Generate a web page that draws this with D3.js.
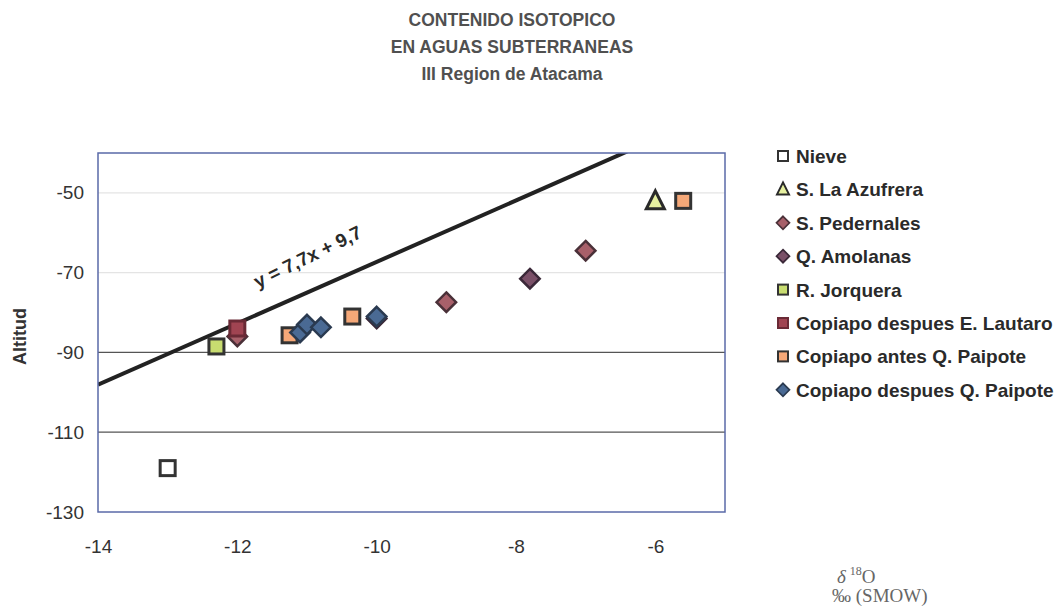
<!DOCTYPE html>
<html>
<head>
<meta charset="utf-8">
<script src="https://cdn.jsdelivr.net/npm/d3@7"></script>
<style>
  body { margin: 0; background: #fff; }
  text { font-family: "Liberation Sans", Arial, sans-serif; }
  text.serif { font-family: "Liberation Serif", "Times New Roman", serif; }
</style>
</head>
<body>
<svg class="chart" width="1062" height="606"></svg>
<script>
// data (delta 18O, altitude)
const titleLines = ['CONTENIDO ISOTOPICO', 'EN AGUAS SUBTERRANEAS', 'III Region de Atacama'];
const xTicks = [-14, -12, -10, -8, -6];
const yTicks = [-50, -70, -90, -110, -130];

const nieve = [[-13, -119]];
const azufrera = [[-6, -52]];
const pedernales = [[-12, -86], [-9, -77.4], [-7, -64.5]];
const amolanas = [[-7.8, -71.5], [-10, -81.5]];
const jorquera = [[-12.3, -88.5]];
const lautaro = [[-12, -84]];
const antesPaipote = [[-11.25, -85.7], [-10.35, -81], [-5.6, -52]];
const despuesPaipote = [[-11.1, -85], [-11, -83], [-10.8, -83.7], [-10, -81]];

const lineSlope = 7.7, lineIntercept = 9.7;

const series = [
    { name: 'Nieve', pts: nieve, shape: 'square', fill: '#ffffff', stroke: '#333' },
    { name: 'S. La Azufrera', pts: azufrera, shape: 'triangle', fill: '#e6f0a0', stroke: '#2a2a2a' },
    { name: 'S. Pedernales', pts: pedernales, shape: 'diamond', fill: '#a8606a', stroke: '#4a3038' },
    { name: 'Q. Amolanas', pts: amolanas, shape: 'diamond', fill: '#7a5068', stroke: '#3a2838' },
    { name: 'R. Jorquera', pts: jorquera, shape: 'square', fill: '#c8dc70', stroke: '#333' },
    { name: 'Copiapo despues E. Lautaro', pts: lautaro, shape: 'square', fill: '#a04452', stroke: '#6a2a36' },
    { name: 'Copiapo antes Q. Paipote', pts: antesPaipote, shape: 'square', fill: '#f5a878', stroke: '#333' },
    { name: 'Copiapo despues Q. Paipote', pts: despuesPaipote, shape: 'diamond', fill: '#4a6a94', stroke: '#2a3a50' }
];

var svg = d3.select('.chart');
var margins = { top: 153, left: 98, right: 337, bottom: 94 };
const width = svg.attr('width') - margins.left - margins.right;
const height = svg.attr('height') - margins.top - margins.bottom;

var x = d3.scaleLinear().domain([-14, -5]).range([0, width]);
var y = d3.scaleLinear().domain([-130, -40]).range([height, 0]);

// title
svg.append('g').selectAll('text')
    .data(titleLines)
    .enter().append('text')
    .attr('x', 512)
    .attr('y', (d, i) => 26 + i * 27)
    .attr('text-anchor', 'middle')
    .attr('font-size', 17.5)
    .attr('font-weight', 'bold')
    .attr('fill', '#505050')
    .text(d => d);

var g = svg.append('g')
    .attr('transform', 'translate(' + margins.left + ',' + margins.top + ')');

g.append('defs').append('clipPath').attr('id', 'clip')
    .append('rect').attr('width', width).attr('height', height);

// gridlines
g.selectAll('.grid')
    .data(yTicks.filter(d => d > -130))
    .enter().append('line')
    .attr('class', 'grid')
    .attr('x1', 0).attr('x2', width)
    .attr('y1', d => y(d)).attr('y2', d => y(d))
    .attr('stroke', d => d <= -90 ? '#555' : '#e4e4e4')
    .attr('stroke-width', 1.2);

// axes (labels only)
var yAxis = g.append('g').call(d3.axisLeft(y).tickValues(yTicks).tickSize(0).tickPadding(14).tickFormat(d => String(d)));
var xAxis = g.append('g').attr('transform', 'translate(0,' + height + ')')
    .call(d3.axisBottom(x).tickValues(xTicks).tickSize(0).tickPadding(28).tickFormat(d => String(d)));
[yAxis, xAxis].forEach(a => {
    a.select('.domain').remove();
    a.selectAll('text').attr('font-size', 19).attr('fill', '#333');
});

g.append('text')
    .attr('transform', 'translate(' + (-72) + ',' + (y(-86)) + ') rotate(-90)')
    .attr('text-anchor', 'middle')
    .attr('font-size', 18)
    .attr('font-weight', 'bold')
    .attr('fill', '#333')
    .text('Altitud');

// regression line
const xl = x.domain();
g.append('line')
    .attr('clip-path', 'url(#clip)')
    .attr('x1', x(xl[0])).attr('y1', y(lineSlope * xl[0] + lineIntercept))
    .attr('x2', x(xl[1])).attr('y2', y(lineSlope * xl[1] + lineIntercept))
    .attr('stroke', '#222')
    .attr('stroke-width', 4);

g.append('text')
    .attr('transform', 'translate(' + x(-10.95) + ',' + y(-67.5) + ') rotate(-26)')
    .attr('text-anchor', 'middle')
    .attr('font-size', 19)
    .attr('font-weight', 'bold')
    .attr('fill', '#2a2a2a')
    .text('y = 7,7x + 9,7');

// plot border
g.append('rect')
    .attr('width', width).attr('height', height)
    .attr('fill', 'none')
    .attr('stroke', '#5a6aa8')
    .attr('stroke-width', 1.5);

function marker(sel, s, size) {
    const h = size / 2;
    if (s.shape === 'square') {
        sel.append('rect').attr('x', -h).attr('y', -h).attr('width', size).attr('height', size)
            .attr('fill', s.fill).attr('stroke', s.stroke).attr('stroke-width', size / 5);
    } else if (s.shape === 'diamond') {
        const d = h * 1.3;
        sel.append('path').attr('d', 'M0,' + (-d) + 'L' + d + ',0L0,' + d + 'L' + (-d) + ',0Z')
            .attr('fill', s.fill).attr('stroke', s.stroke).attr('stroke-width', size / 6);
    } else {
        const d = h * 1.2;
        sel.append('path').attr('d', 'M0,' + (-d - 1) + 'L' + d + ',' + (d - 1) + 'L' + (-d) + ',' + (d - 1) + 'Z')
            .attr('fill', s.fill).attr('stroke', s.stroke).attr('stroke-width', size / 5)
            .attr('stroke-linejoin', 'miter');
    }
}

// points
series.forEach(s => {
    g.selectAll(null)
        .data(s.pts)
        .enter().append('g')
        .attr('transform', d => 'translate(' + x(d[0]) + ',' + y(d[1]) + ')')
        .each(function () { marker(d3.select(this), s, 15); });
});

// legend
var legend = svg.append('g').attr('transform', 'translate(783,156)');
series.forEach((s, i) => {
    var item = legend.append('g').attr('transform', 'translate(0,' + i * 33.4 + ')');
    var m = item.append('g');
    marker(m, s, 10);
    item.append('text')
        .attr('x', 13).attr('y', 7)
        .attr('font-size', 19)
        .attr('font-weight', 'bold')
        .attr('fill', '#2a2a2a')
        .text(s.name);
});

// x axis caption
var t1 = svg.append('text').attr('class', 'serif').attr('x', 837).attr('y', 583)
    .attr('font-size', 19).attr('fill', '#666');
t1.append('tspan').attr('font-style', 'italic').text('δ');
t1.append('tspan').attr('dx', 4).attr('dy', -8).attr('font-size', 12).text('18');
t1.append('tspan').attr('dy', 8).text('O');
svg.append('text').attr('class', 'serif').attr('x', 832).attr('y', 602)
    .attr('font-size', 19).attr('fill', '#666').text('‰ (SMOW)');
</script>
</body>
</html>
